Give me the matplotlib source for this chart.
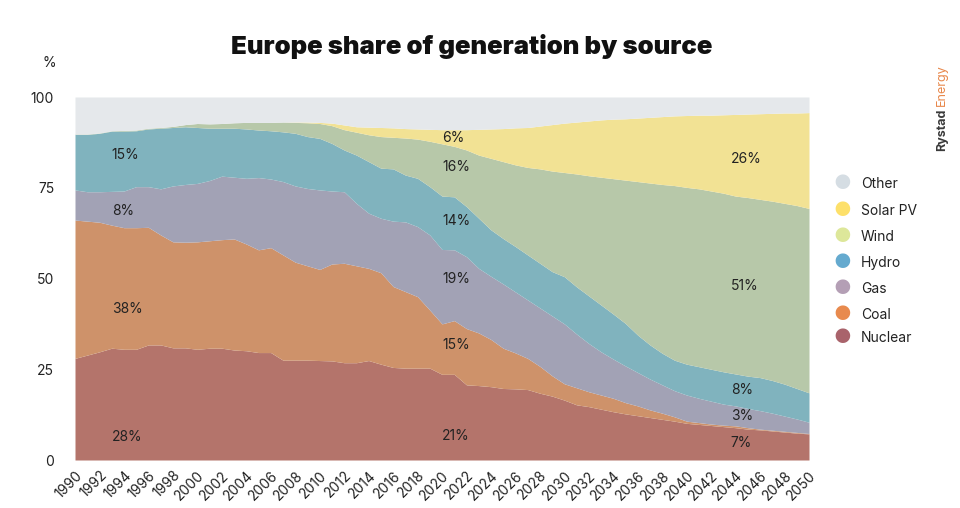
import numpy as np
import matplotlib
matplotlib.use('Agg')
import matplotlib.pyplot as plt

plt.rcParams['font.family'] = ['Inter', 'DejaVu Sans']

years = np.arange(1990, 2051)

# upper edge of each layer (cumulative %)
nuclear_top = [28.0, 28.9, 29.8, 30.8, 30.5, 30.5, 31.7, 31.7, 30.9, 30.9,
               30.5, 30.8, 30.8, 30.3, 30.1, 29.6, 29.6, 27.5, 27.5, 27.5,
               27.4, 27.3, 26.8, 26.8, 27.4, 26.4, 25.5, 25.3, 25.3, 25.3,
               23.6, 23.6, 20.7, 20.5, 20.2, 19.7, 19.6, 19.4, 18.4, 17.6,
               16.5, 15.2, 14.7, 14.0, 13.3, 12.7, 12.2, 11.7, 11.2, 10.7,
               10.1, 9.8, 9.5, 9.2, 8.9, 8.5, 8.3, 8.0, 7.7, 7.4, 7.2]
coal_top = [66.1, 65.8, 65.5, 64.7, 64.0, 64.0, 64.1, 62.0, 60.1, 60.0,
            60.1, 60.4, 60.7, 60.9, 59.5, 57.9, 58.5, 56.5, 54.5, 53.5,
            52.5, 54.0, 54.2, 53.5, 52.8, 51.6, 47.8, 46.4, 45.0, 41.3,
            37.5, 38.4, 36.2, 35.0, 33.2, 30.8, 29.5, 28.0, 25.8, 23.2,
            21.0, 19.9, 18.8, 17.9, 17.0, 15.8, 14.9, 13.8, 12.9, 11.9,
            10.7, 10.3, 9.9, 9.6, 9.4, 8.9, 8.5, 8.2, 7.9, 7.6, 7.3]
gas_top = [74.4, 73.9, 73.9, 74.0, 74.1, 75.3, 75.3, 74.7, 75.5, 75.9,
           76.2, 77.0, 78.2, 77.9, 77.6, 77.8, 77.4, 76.7, 75.5, 74.8,
           74.4, 74.1, 73.9, 70.7, 68.0, 66.6, 65.8, 65.6, 64.3, 62.0,
           58.0, 57.9, 56.0, 52.8, 50.6, 48.5, 46.3, 44.1, 41.9, 39.7,
           37.5, 34.7, 32.1, 29.8, 27.8, 25.9, 24.1, 22.3, 20.7, 19.1,
           17.9, 17.0, 16.2, 15.4, 14.9, 14.2, 13.6, 12.9, 12.1, 11.3, 10.4]
hydro_top = [89.7, 89.7, 90.0, 90.6, 90.6, 90.7, 91.2, 91.4, 91.6, 91.8,
             91.6, 91.4, 91.4, 91.4, 91.2, 90.9, 90.7, 90.4, 90.0, 89.1,
             88.6, 87.2, 85.4, 84.0, 82.2, 80.4, 80.2, 78.5, 77.6, 75.3,
             72.7, 72.5, 69.8, 66.6, 63.4, 61.0, 58.8, 56.5, 54.2, 51.9,
             50.5, 47.7, 45.2, 42.7, 40.2, 37.6, 34.4, 31.7, 29.4, 27.5,
             26.4, 25.7, 25.0, 24.3, 23.7, 23.1, 22.7, 21.9, 20.9, 19.7, 18.5]
wind_top = [89.8, 89.8, 90.1, 90.7, 90.8, 90.9, 91.4, 91.6, 91.9, 92.4,
            92.7, 92.6, 92.7, 92.9, 93.0, 93.0, 93.0, 93.1, 93.0, 92.9,
            92.7, 92.1, 91.0, 90.3, 89.6, 89.1, 88.9, 88.7, 88.4, 87.8,
            87.1, 86.4, 85.4, 84.0, 83.1, 82.2, 81.3, 80.6, 80.2, 79.6,
            79.2, 78.8, 78.3, 77.9, 77.5, 77.1, 76.7, 76.3, 75.9, 75.6,
            75.1, 74.7, 74.1, 73.5, 72.7, 72.3, 71.8, 71.3, 70.7, 70.1, 69.3]
solar_top = [89.8, 89.8, 90.1, 90.7, 90.8, 90.9, 91.4, 91.6, 91.9, 92.4,
             92.7, 92.6, 92.7, 92.9, 93.0, 93.0, 93.0, 93.1, 93.1, 93.1,
             93.0, 92.8, 92.3, 91.8, 91.7, 91.6, 91.5, 91.3, 91.2, 91.1,
             91.0, 91.0, 91.0, 91.1, 91.2, 91.3, 91.5, 91.6, 92.0, 92.4,
             92.8, 93.1, 93.4, 93.7, 93.9, 94.0, 94.2, 94.4, 94.6, 94.8,
             94.9, 95.0, 95.0, 95.1, 95.2, 95.3, 95.4, 95.5, 95.6, 95.6, 95.7]
other_top = [100.0] * len(years)

sources = ['Nuclear', 'Coal', 'Gas', 'Hydro', 'Wind', 'Solar PV', 'Other']
tops = [nuclear_top, coal_top, gas_top, hydro_top, wind_top, solar_top, other_top]
fill_colors = ['#b4746b', '#ce926a', '#a2a2b5', '#80b3be', '#b7c8a9', '#f2e294', '#e5e8eb']
legend_colors = ['#a9636b', '#e88a4e', '#b49fb5', '#65aacf', '#dde79a', '#fde06a', '#d5dde3']

# share labels (year position, y position in %, label)
label_years = [1993, 2020, 2043.6]
labels_1990 = [(6.3, '28%'), (41.6, '38%'), (68.6, '8%'), (84, '15%')]
labels_2022 = [(6.6, '21%'), (31.7, '15%'), (49.9, '19%'), (65.8, '14%'), (80.7, '16%'), (88.7, '6%')]
labels_2050 = [(4.7, '7%'), (12.1, '3%'), (19.3, '8%'), (47.9, '51%'), (82.9, '26%')]

fig = plt.figure(figsize=(9.6, 5.08), dpi=100)
ax = fig.add_axes([75 / 960, 48 / 508, 734 / 960, 363 / 508])

bottom = np.zeros(len(years))
for name, top, c in zip(sources, tops, fill_colors):
    top = np.array(top)
    ax.fill_between(years, bottom, top, color=c, linewidth=0)
    bottom = top

ax.set_xlim(1990, 2050)
ax.set_ylim(0, 100)
ax.set_yticks([0, 25, 50, 75, 100])
ax.set_xticks(years[::2])
ax.set_xticklabels([str(y) for y in years[::2]], rotation=45, ha='right',
                   rotation_mode='anchor', fontsize=10, color='#222222')
ax.tick_params(axis='y', labelsize=10, colors='#222222', length=0, pad=15)
ax.tick_params(axis='x', length=0, pad=6)
for s in ax.spines.values():
    s.set_visible(False)

for x0, group in zip(label_years, [labels_1990, labels_2022, labels_2050]):
    for val, txt in group:
        ax.text(x0, val, txt, fontsize=10, color='#222222', ha='left', va='center')

fig.text(49 / 960, 1 - 63 / 508, '%', fontsize=10, color='#222222', ha='center', va='center')
fig.text(472 / 960, 1 - 46 / 508, 'Europe share of generation by source',
         fontsize=18.5, fontweight='black', ha='center', va='center', color='#111111')

# legend as dots + text
leg_y = [184, 211, 237, 263, 289, 315, 338]
for yy, name, c in zip(leg_y, sources[::-1], legend_colors[::-1]):
    fig.text(842 / 960, 1 - yy / 508, '\u25cf', fontsize=14, color=c, ha='center', va='center')
    fig.text(861 / 960, 1 - yy / 508, name, fontsize=10, color='#222222', ha='left', va='center')

# brand mark
fig.text(942 / 960, 1 - 151 / 508, 'Rystad', rotation=90, fontsize=9, fontweight='bold',
         color='#3a3a3a', ha='center', va='bottom')
fig.text(942 / 960, 1 - 106 / 508, 'Energy', rotation=90, fontsize=9,
         color='#e8874a', ha='center', va='bottom')

fig.savefig('out.png', dpi=100)
